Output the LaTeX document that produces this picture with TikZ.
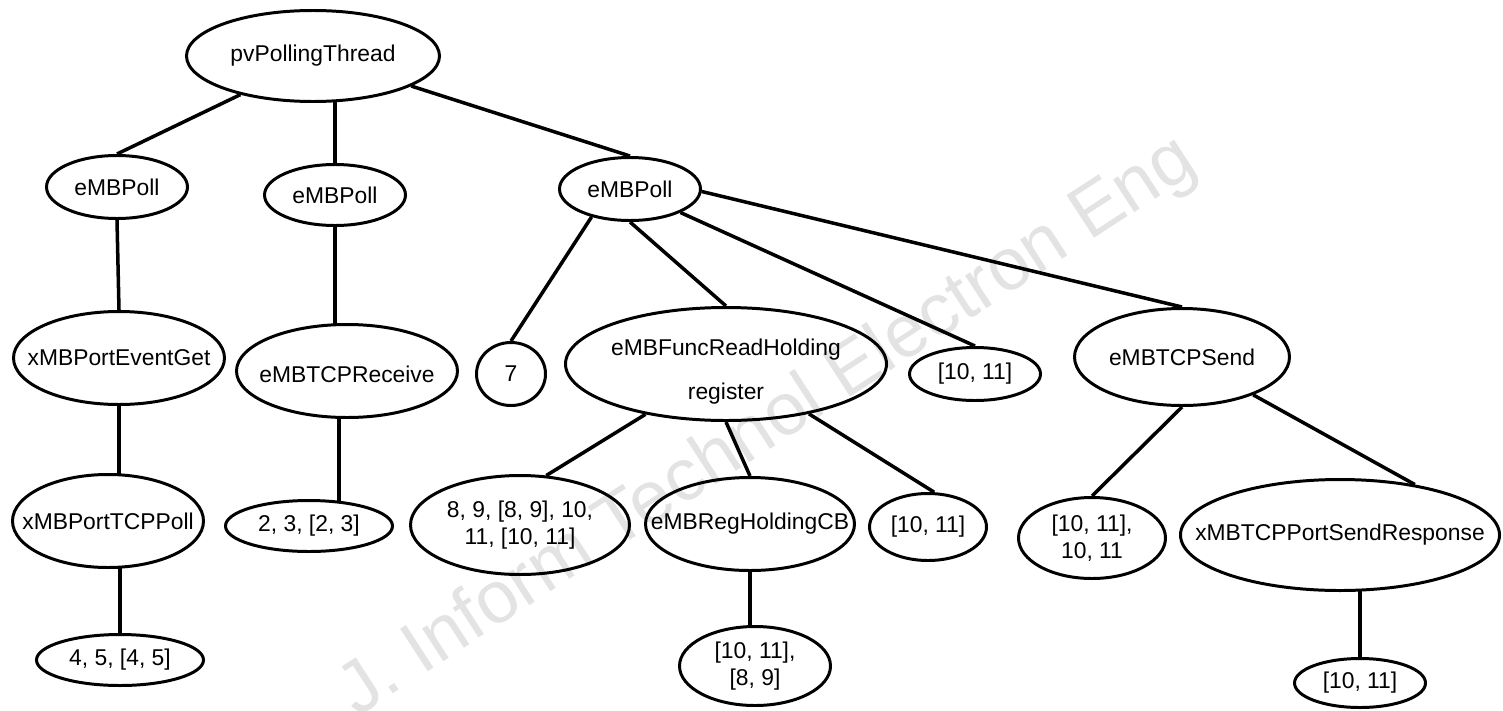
\documentclass[tikz,border=0pt]{standalone}
\usepackage{fontspec}
\setmainfont{Liberation Sans}
\usetikzlibrary{shapes.geometric,backgrounds,calc}
\newcommand\zbox[1]{\makebox[0pt]{#1}}
\begin{document}
\begin{tikzpicture}[x=0.02cm,y=-0.02cm,
  el/.style={ellipse,draw,line width=1.7pt,fill=white,inner sep=0pt,align=center,
    font=\fontsize{13}{15.6}\selectfont},
  sz/.style 2 args={minimum width={#1*0.02cm},minimum height={#2*0.02cm}},
  edge/.style={line width=2pt},
  wmark/.style={rotate=33,font=\fontsize{42}{50}\selectfont,text=black,opacity=0.11}]
\useasboundingbox (0,0) rectangle (1503,710);
% level 0
\node[el,sz={253}{91}] (root) at (313,56) {\zbox{pvPollingThread}};
% level 1
\node[el,sz={141}{63}] (e1) at (117,187) {\zbox{eMBPoll}};
\node[el,sz={141}{61}] (e2) at (335,195) {\zbox{eMBPoll}};
\node[el,sz={141}{63}] (e3) at (630,189) {\zbox{eMBPoll}};
% level 2
\node[el,sz={211}{93}] (pe) at (119,358) {\zbox{xMBPortEventGet}};
\node[el,sz={221}{93}] (rc) at (347,371) {\zbox{\rule{0pt}{13pt}eMBTCPReceive}};
\node[el,sz={69}{63}] (n7) at (511,374) {\zbox{7}};
\node[el,sz={321}{113}] (fr) at (726,364) {\zbox{\rule{0pt}{18pt}eMBFuncReadHolding}\\[9pt]\zbox{register}};
\node[el,sz={131}{53}] (m10) at (975,374) {\zbox{[10, 11]}};
\node[el,sz={215}{97}] (ts) at (1182,357) {\zbox{eMBTCPSend}};
% level 3
\node[el,sz={191}{93}] (tp) at (108,521) {\zbox{xMBPortTCPPoll}};
\node[el,sz={167}{51}] (r23) at (309,526) {\zbox{2, 3, [2, 3]}};
\node[el,sz={219}{99}] (r89) at (520,525) {\zbox{8, 9, [8, 9], 10,}\\\zbox{11, [10, 11]}};
\node[el,sz={209}{93}] (hcb) at (750,524) {\zbox{eMBRegHoldingCB}};
\node[el,sz={117}{67}] (ra) at (928,527) {\zbox{[10, 11]}};
\node[el,sz={147}{81}] (rb) at (1092,538) {\zbox{[10, 11],}\\\zbox{10, 11}};
\node[el,sz={319}{111}] (sr) at (1340,535) {\zbox{xMBTCPPortSendResponse}};
% level 4
\node[el,sz={167}{51}] (r45) at (120,660) {\zbox{4, 5, [4, 5]}};
\node[el,sz={151}{79}] (r1089) at (755,666) {\zbox{[10, 11],}\\\zbox{[8, 9]}};
\node[el,sz={131}{49}] (rc2) at (1360,683) {\zbox{[10, 11]}};
% connectors
\begin{scope}[on background layer]
\draw[edge] (root.208) -- (e1.north);
\draw[edge] (e2.north) -- (e2.north |- root.center);
\draw[edge] (root.343) -- (e3.north);
\draw[edge] (e1.south) -- (pe.north);
\draw[edge] (pe.south) -- (pe.south |- tp.center);
\draw[edge] (r45.north |- tp.center) -- (r45.north);
\draw[edge] (e2.south) -- (e2.south |- rc.center);
\coordinate (rcx) at ($(rc.south)+(-8,0)$);
\draw[edge] (rcx) -- (rcx |- r23.center);
\draw[edge] (e3.216) -- (n7.north);
\draw[edge] (e3.south) -- (fr.north);
\draw[edge] (e3.335) -- (m10.north);
\draw[edge] (e3.358) -- (ts.north);
\draw[edge] (fr.212) -- (r89.62);
\draw[edge] (fr.south) -- (hcb.north);
\draw[edge] (fr.329) -- (ra.80);
\draw[edge] (ts.south) -- (rb.north);
\draw[edge] (ts.332) -- (sr.34);
\draw[edge] (rc2.north |- sr.center) -- (rc2.north);
\draw[edge] (hcb.south) -- (hcb.south |- r1089.center);
\end{scope}
% watermark
\node[wmark] (wm) at (768,428) {J. Inform Technol Electron Eng};
\end{tikzpicture}
\end{document}
